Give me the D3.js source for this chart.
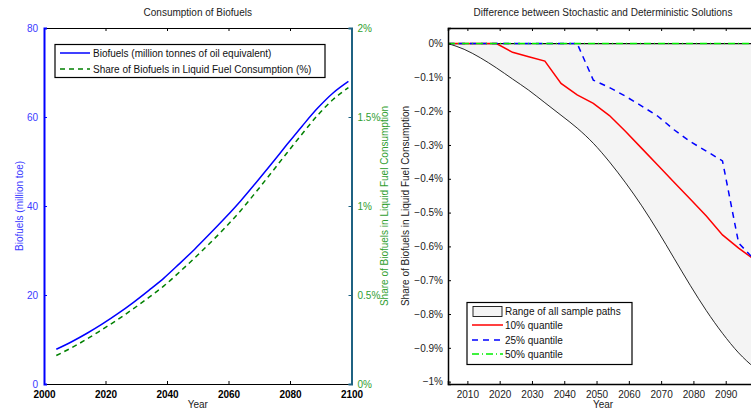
<!DOCTYPE html>
<html>
<head>
<meta charset="utf-8">
<script src="https://cdn.jsdelivr.net/npm/d3@7/dist/d3.min.js"></script>
<style>
  body { margin: 0; background: #fff; }
  svg { font-family: "Liberation Sans", Arial, sans-serif; font-size: 10px; }
</style>
</head>
<body>
<div id="chart"></div>
<script>
// years of the model runs (every 5 years)
let years = [2004, 2009, 2014, 2019, 2024, 2029, 2034, 2039, 2044, 2049,
             2054, 2059, 2064, 2069, 2074, 2079, 2084, 2089, 2094, 2099];
// left panel: biofuels (million toe) and share (%)
let biofuels = [7.8, 9.5, 11.4, 13.5, 15.8, 18.3, 21.0, 23.8, 27.0, 30.3,
                33.8, 37.4, 41.2, 45.3, 49.5, 53.8, 58.0, 62.0, 65.4, 68.0];
let share = [0.16, 0.204, 0.253, 0.307, 0.362, 0.422, 0.485, 0.551, 0.628, 0.708,
             0.792, 0.88, 0.975, 1.08, 1.188, 1.298, 1.406, 1.51, 1.598, 1.665];
// right panel: difference stochastic - deterministic (%)
let rangeMin = [0, -0.017, -0.042, -0.072, -0.105, -0.138, -0.175, -0.212, -0.25, -0.295,
                -0.35, -0.412, -0.48, -0.555, -0.635, -0.715, -0.79, -0.857, -0.915, -0.96];
let rangeMax = [0, 0, 0, 0, 0, 0, 0, 0, 0, 0, 0, 0, 0, 0, 0, 0, 0, 0, 0, 0];
let q10 = [0, 0, 0, 0, -0.026, -0.039, -0.052, -0.118, -0.152, -0.177,
           -0.213, -0.26, -0.31, -0.36, -0.41, -0.46, -0.51, -0.566, -0.605, -0.64];
let q25 = [0, 0, 0, 0, 0, 0, 0, 0, 0, -0.108,
           -0.13, -0.156, -0.185, -0.215, -0.255, -0.29, -0.318, -0.347, -0.59, -0.64];
let q50 = [0, 0, 0, 0, 0, 0, 0, 0, 0, 0, 0, 0, 0, 0, 0, 0, 0, 0, 0, 0];

let leftXTicks = [2000, 2020, 2040, 2060, 2080, 2100];
let leftYTicks = [0, 20, 40, 60, 80];
let shareTicks = [0, 0.5, 1, 1.5, 2];
let rightXTicks = [2010, 2020, 2030, 2040, 2050, 2060, 2070, 2080, 2090];
let diffTicks = [-1, -0.9, -0.8, -0.7, -0.6, -0.5, -0.4, -0.3, -0.2, -0.1, 0];

let width = 751, height = 410;
let svg = d3.select("#chart").append("svg")
    .attr("width", width)
    .attr("height", height);

let blue = "#0000ff", green = "#008000", greenText = "#2f9e2f", teal = "#1f6282";

// ---------------- Left panel ----------------
let L = {left: 44, right: 351.5, top: 28, bottom: 384};
let xL = d3.scaleLinear().domain([2000, 2100]).range([L.left, L.right]);
let yBio = d3.scaleLinear().domain([0, 80]).range([L.bottom, L.top]);
let yShare = d3.scaleLinear().domain([0, 2]).range([L.bottom, L.top]);

let gL = svg.append("g");

// bottom axis (ticks inward)
let axB = gL.append("g")
    .attr("transform", "translate(0," + L.bottom + ")")
    .call(d3.axisBottom(xL).tickValues(leftXTicks).tickSize(-3).tickPadding(7).tickFormat(d3.format("d")));
axB.selectAll("text").attr("font-weight", "bold").attr("fill", "#000").attr("font-size", 10);
axB.select(".domain").attr("stroke", "#000");
// top axis, ticks only
let axT = gL.append("g")
    .attr("transform", "translate(0," + L.top + ")")
    .call(d3.axisTop(xL).tickValues(leftXTicks).tickSize(-3).tickFormat(""));
axT.select(".domain").attr("stroke", "#000");

// left axis (blue)
let axLft = gL.append("g")
    .attr("transform", "translate(" + L.left + ",0)")
    .call(d3.axisLeft(yBio).tickValues(leftYTicks).tickSize(-3).tickPadding(6));
axLft.select(".domain").attr("stroke", blue).attr("stroke-width", 2);
axLft.selectAll(".tick line").attr("stroke", blue);
axLft.selectAll("text").attr("fill", "#3a3aff").attr("font-size", 10);

// right axis (teal line, green labels)
let axRgt = gL.append("g")
    .attr("transform", "translate(" + L.right + ",0)")
    .call(d3.axisRight(yShare).tickValues(shareTicks).tickSize(-3).tickPadding(6).tickFormat(d => d + "%"));
axRgt.select(".domain").attr("stroke", teal).attr("stroke-width", 2);
axRgt.selectAll(".tick line").attr("stroke", teal);
axRgt.selectAll("text").attr("fill", greenText).attr("font-size", 10);

// lines
let lineBio = d3.line().x((d, i) => xL(years[i])).y(d => yBio(d)).curve(d3.curveMonotoneX);
let lineShare = d3.line().x((d, i) => xL(years[i])).y(d => yShare(d)).curve(d3.curveMonotoneX);
gL.append("path").datum(biofuels).attr("d", lineBio)
    .attr("fill", "none").attr("stroke", blue).attr("stroke-width", 1.5);
gL.append("path").datum(share).attr("d", lineShare)
    .attr("fill", "none").attr("stroke", green).attr("stroke-width", 1.5)
    .attr("stroke-dasharray", "5,4");

// labels
gL.append("text").attr("x", (L.left + L.right) / 2).attr("y", 16)
    .attr("text-anchor", "middle").attr("fill", "#222").text("Consumption of Biofuels");
gL.append("text").attr("x", (L.left + L.right) / 2).attr("y", 408)
    .attr("text-anchor", "middle").attr("fill", "#222").text("Year");
gL.append("text").attr("transform", "translate(23,206) rotate(-90)")
    .attr("text-anchor", "middle").attr("fill", "#3a3aff").text("Biofuels (million toe)");
gL.append("text").attr("transform", "translate(388,206) rotate(-90)")
    .attr("text-anchor", "middle").attr("fill", greenText).text("Share of Biofuels in Liquid Fuel Consumption");

// legend
let legL = gL.append("g");
legL.append("rect").attr("x", 55).attr("y", 44.5).attr("width", 270).attr("height", 33)
    .attr("fill", "#fff").attr("stroke", "#000").attr("stroke-width", 1.2);
legL.append("line").attr("x1", 60).attr("x2", 90).attr("y1", 53).attr("y2", 53)
    .attr("stroke", blue).attr("stroke-width", 1.5);
legL.append("text").attr("x", 93).attr("y", 56.5).attr("fill", "#111")
    .text("Biofuels (million tonnes of oil equivalent)");
legL.append("line").attr("x1", 60).attr("x2", 90).attr("y1", 69).attr("y2", 69)
    .attr("stroke", green).attr("stroke-width", 1.5).attr("stroke-dasharray", "5,4");
legL.append("text").attr("x", 93).attr("y", 72.5).attr("fill", "#111")
    .text("Share of Biofuels in Liquid Fuel Consumption (%)");

// ---------------- Right panel ----------------
let R = {left: 448, right: 758, top: 28, bottom: 384};
let xR = d3.scaleLinear().domain([2004, 2100]).range([R.left, R.right]);
let yD = d3.scaleLinear().domain([-1.007, 0.046]).range([R.bottom, R.top]);

let gR = svg.append("g");

// range area
let area = d3.area()
    .x((d, i) => xR(years[i]))
    .y0((d, i) => yD(rangeMin[i]))
    .y1((d, i) => yD(rangeMax[i]))
    .curve(d3.curveMonotoneX);
gR.append("path").datum(years).attr("d", area)
    .attr("fill", "#f4f4f4").attr("stroke", "none");
let lineD = d3.line().x((d, i) => xR(years[i])).y(d => yD(d));
gR.append("path").datum(rangeMin).attr("d", lineD.curve(d3.curveMonotoneX))
    .attr("fill", "none").attr("stroke", "#111").attr("stroke-width", 0.9);
gR.append("path").datum(rangeMax).attr("d", lineD)
    .attr("fill", "none").attr("stroke", "#111").attr("stroke-width", 1.2);
lineD.curve(d3.curveLinear);
gR.append("path").datum(q10).attr("d", lineD)
    .attr("fill", "none").attr("stroke", "#ff0000").attr("stroke-width", 1.5);
gR.append("path").datum(q25).attr("d", lineD)
    .attr("fill", "none").attr("stroke", "#0000ff").attr("stroke-width", 1.5)
    .attr("stroke-dasharray", "6,5");
gR.append("path").datum(q50).attr("d", lineD)
    .attr("fill", "none").attr("stroke", "#00ee00").attr("stroke-width", 1.5)
    .attr("stroke-dasharray", "7,3,1,3");

// axes
let axRB = gR.append("g")
    .attr("transform", "translate(0," + R.bottom + ")")
    .call(d3.axisBottom(xR).tickValues(rightXTicks).tickSize(-3).tickPadding(7).tickFormat(d3.format("d")));
axRB.selectAll("text").attr("fill", "#222").attr("font-size", 10);
axRB.select(".domain").attr("stroke", "#000").attr("stroke-width", 1.5);
let axRT = gR.append("g")
    .attr("transform", "translate(0," + R.top + ")")
    .call(d3.axisTop(xR).tickValues(rightXTicks).tickSize(-3).tickFormat(""));
axRT.select(".domain").attr("stroke", "#000").attr("stroke-width", 1.5);
let axRL = gR.append("g")
    .attr("transform", "translate(" + R.left + ",0)")
    .call(d3.axisLeft(yD).tickValues(diffTicks).tickSize(-3).tickPadding(5)
        .tickFormat(d => (d === 0 ? "0" : "\u2212" + d3.format("")(Math.abs(+d.toFixed(1)))) + "%"));
axRL.selectAll("text").attr("fill", "#222").attr("font-size", 10);
axRL.select(".domain").attr("stroke", "#000").attr("stroke-width", 1.5);

gR.append("text").attr("x", (R.left + R.right) / 2).attr("y", 16)
    .attr("text-anchor", "middle").attr("fill", "#222")
    .text("Difference between Stochastic and Deterministic Solutions");
gR.append("text").attr("x", (R.left + R.right) / 2).attr("y", 408)
    .attr("text-anchor", "middle").attr("fill", "#222").text("Year");
gR.append("text").attr("transform", "translate(409,206) rotate(-90)")
    .attr("text-anchor", "middle").attr("fill", "#222")
    .text("Share of Biofuels in Liquid Fuel Consumption");

// legend
let legR = gR.append("g");
legR.append("rect").attr("x", 467).attr("y", 302.5).attr("width", 165).attr("height", 62)
    .attr("fill", "#fff").attr("stroke", "#000").attr("stroke-width", 1.2);
legR.append("rect").attr("x", 473).attr("y", 306.5).attr("width", 29).attr("height", 10)
    .attr("fill", "#f4f4f4").attr("stroke", "#111").attr("stroke-width", 0.9);
let legItems = [
    {label: "10% quantile", color: "#ff0000", dash: null, y: 325},
    {label: "25% quantile", color: "#0000ff", dash: "6,5", y: 340},
    {label: "50% quantile", color: "#00ee00", dash: "7,3,1,3", y: 354}
];
legR.append("text").attr("x", 505).attr("y", 315).attr("fill", "#111").text("Range of all sample paths");
legItems.forEach(it => {
    legR.append("line").attr("x1", 472).attr("x2", 503).attr("y1", it.y).attr("y2", it.y)
        .attr("stroke", it.color).attr("stroke-width", 1.5).attr("stroke-dasharray", it.dash);
    legR.append("text").attr("x", 505).attr("y", it.y + 3.5).attr("fill", "#111").text(it.label);
});
</script>
</body>
</html>
